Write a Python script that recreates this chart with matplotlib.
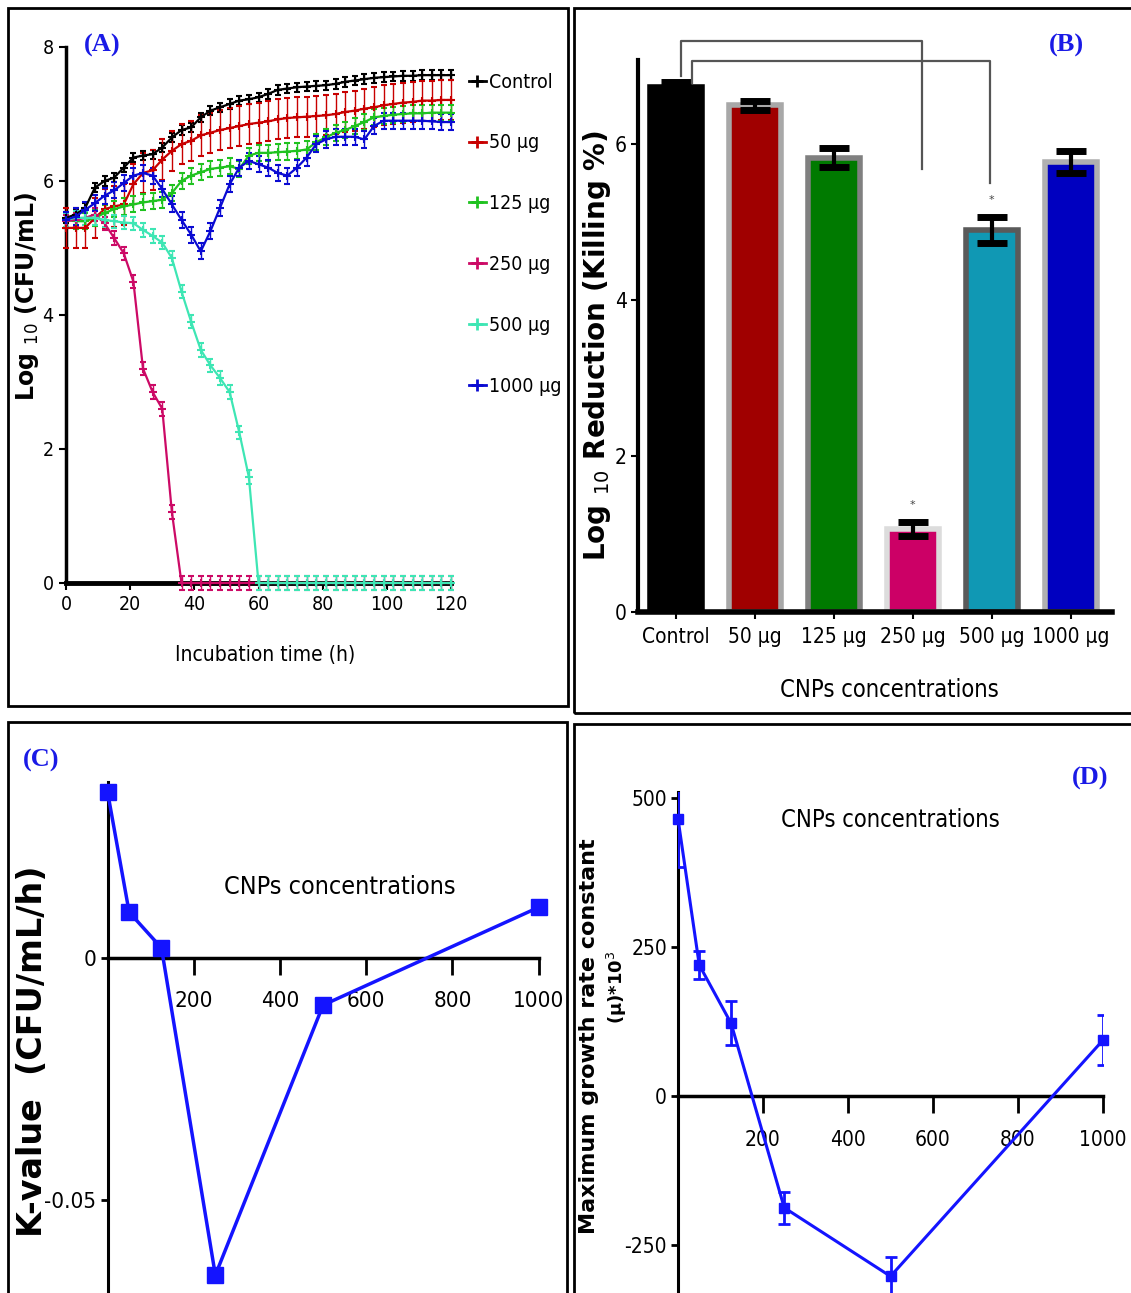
import os
import numpy as np
import matplotlib
matplotlib.use("Agg")
import matplotlib.pyplot as plt
from matplotlib import font_manager
from matplotlib.font_manager import FontProperties
from matplotlib.lines import Line2D
from matplotlib.patches import Rectangle

# ---- data: panel A, growth curves (log10 CFU/mL every 3 h) ----
time_h = list(range(0, 121, 3))
series_labels = ["Control", "50 µg", "125 µg", "250 µg", "500 µg", "1000 µg"]

control = [5.45, 5.5, 5.6, 5.9, 6.0, 6.05, 6.2, 6.35, 6.38, 6.4, 6.5, 6.65, 6.76, 6.8,
           6.95, 7.05, 7.1, 7.15, 7.2, 7.22, 7.25, 7.3, 7.36, 7.38, 7.4, 7.41, 7.42,
           7.43, 7.45, 7.48, 7.5, 7.52, 7.54, 7.55, 7.56, 7.57, 7.57, 7.58, 7.58, 7.58, 7.58]
ug50 = [5.3, 5.3, 5.3, 5.45, 5.58, 5.62, 5.65, 5.95, 6.12, 6.16, 6.32, 6.45, 6.55, 6.6,
        6.68, 6.72, 6.76, 6.79, 6.82, 6.85, 6.87, 6.89, 6.92, 6.94, 6.95, 6.96, 6.97,
        6.98, 7.0, 7.03, 7.05, 7.08, 7.1, 7.13, 7.15, 7.17, 7.18, 7.2, 7.2, 7.21, 7.21]
ug125 = [5.42, 5.4, 5.4, 5.45, 5.52, 5.58, 5.62, 5.65, 5.68, 5.7, 5.72, 5.82, 6.0, 6.08,
         6.13, 6.18, 6.2, 6.22, 6.18, 6.38, 6.42, 6.42, 6.43, 6.44, 6.45, 6.47, 6.58,
         6.65, 6.72, 6.76, 6.82, 6.88, 6.95, 6.97, 6.99, 7.0, 7.01, 7.01, 7.02, 7.02, 7.02]
ug250 = [5.4, 5.42, 5.45, 5.5, 5.37, 5.15, 4.92, 4.5, 3.2, 2.85, 2.6, 1.06, 0.0, 0.0,
         0.0, 0.0, 0.0, 0.0, 0.0, 0.0, 0.0, 0.0, 0.0, 0.0, 0.0, 0.0, 0.0,
         0.0, 0.0, 0.0, 0.0, 0.0, 0.0, 0.0, 0.0, 0.0, 0.0, 0.0, 0.0, 0.0, 0.0]
ug500 = [5.42, 5.45, 5.45, 5.45, 5.42, 5.4, 5.38, 5.37, 5.27, 5.18, 5.08, 4.85, 4.35, 3.9,
         3.48, 3.25, 3.06, 2.85, 2.25, 1.58, 0.0, 0.0, 0.0, 0.0, 0.0, 0.0, 0.0,
         0.0, 0.0, 0.0, 0.0, 0.0, 0.0, 0.0, 0.0, 0.0, 0.0, 0.0, 0.0, 0.0, 0.0]
ug1000 = [5.42, 5.47, 5.57, 5.67, 5.78, 5.86, 5.97, 6.08, 6.12, 6.08, 5.88, 5.65, 5.42, 5.2,
          4.95, 5.25, 5.6, 5.95, 6.2, 6.3, 6.25, 6.2, 6.12, 6.08, 6.2, 6.35, 6.55,
          6.62, 6.66, 6.66, 6.66, 6.62, 6.82, 6.9, 6.9, 6.9, 6.9, 6.9, 6.89, 6.88, 6.88]
curve_err = [0.07, 0.3, 0.12, 0.1, 0.1, 0.12]
curve_colors = ["#000000", "#c80000", "#1fc21f", "#cc0a66", "#3ee6b4", "#0a0ad2"]

# ---- data: panel B, log10 reduction ----
bar_labels = ["Control", "50 µg", "125 µg", "250 µg", "500 µg", "1000 µg"]
reduction = [6.72, 6.49, 5.82, 1.06, 4.89, 5.76]
reduction_err = [0.07, 0.06, 0.12, 0.09, 0.17, 0.14]
bar_colors = ["#000000", "#a00000", "#007a00", "#cc0066", "#1098b4", "#0000c0"]
bar_edges = ["#000000", "#a8a8a8", "#808080", "#dcdcdc", "#5a5a5a", "#b0b0b0"]

# ---- data: panels C and D ----
conc = [0, 50, 125, 250, 500, 1000]
k_value = [0.0343, 0.0095, 0.0021, -0.0655, -0.0097, 0.0105]
mu_max = [465, 220, 122, -187, -302, 94]
mu_err = [80, 24, 37, 27, 32, 42]

# narrow font for the (horizontally squeezed) labels, if one is installed
cond_path = None
for f in font_manager.fontManager.ttflist:
    base = os.path.basename(f.fname).lower()
    if ("condensed" in base or "narrow" in base) and not any(
            k in base for k in ("bold", "italic", "oblique", "light", "mono", "serif")):
        cond_path = f.fname
        break
available = {f.name for f in font_manager.fontManager.ttflist}
SERIF = "Liberation Serif" if "Liberation Serif" in available else "DejaVu Serif"


def cf(size):
    if cond_path:
        return FontProperties(fname=cond_path, size=size)
    return FontProperties(family="Liberation Sans", size=size)


W, H = 1131, 1293
fig = plt.figure(figsize=(W / 100, H / 100), dpi=100)


def px_axes(x0, y_top, x1, y_bottom):
    return fig.add_axes([x0 / W, 1 - y_bottom / H, (x1 - x0) / W, (y_bottom - y_top) / H])


def fig_text(x, y, s, **kw):
    fig.text(x / W, 1 - y / H, s, **kw)


def style_ticks(ax, size):
    for lab in ax.get_xticklabels() + ax.get_yticklabels():
        lab.set_fontproperties(cf(size))


# panel frames
for (x0, y0, x1, y1) in [(8, 8, 568, 706), (574, 8, 1140, 713),
                         (8, 722, 567, 1300), (574, 724, 1140, 1300)]:
    fig.add_artist(Rectangle((x0 / W, 1 - y1 / H), (x1 - x0) / W, (y1 - y0) / H,
                             transform=fig.transFigure, fill=False, lw=2, ec="black"))

# ── (A) growth curves ────────────────────────────────────────────────
axA = px_axes(66, 47, 451, 583)
curves = [control, ug50, ug125, ug250, ug500, ug1000]
handles = []
for vals, err, col in zip(curves, curve_err, curve_colors):
    axA.errorbar(time_h, vals, yerr=err, color=col, lw=1.6, marker="+", ms=6,
                 mew=1.5, capsize=2.5, elinewidth=1.0, clip_on=False, zorder=3)
    handles.append(Line2D([0], [0], color=col, lw=2, marker="+", ms=8, mew=2))
axA.set_xlim(0, 120)
axA.set_ylim(0, 8)
axA.set_xticks(range(0, 121, 20))
axA.set_yticks(range(0, 9, 2))
for s in ["top", "right"]:
    axA.spines[s].set_visible(False)
axA.spines["left"].set_linewidth(2.5)
axA.spines["bottom"].set_linewidth(3.5)
axA.tick_params(length=5, width=1.5, pad=4)
style_ticks(axA, 14)
axA.set_xlabel("Incubation time (h)", fontproperties=cf(15))
axA.xaxis.set_label_coords(0.517, -0.115)
axA.legend(handles, series_labels, loc="upper left", bbox_to_anchor=(1.0, 0.985),
           frameon=False, handlelength=0.9, handletextpad=0.15, labelspacing=2.15,
           prop=cf(14))
fig_text(27, 296, "Log $_{10}$ (CFU/mL)", rotation=90, ha="center", va="center",
         fontsize=17, fontweight="bold")
fig_text(102, 45, "(A)", color="#1a1ae6", fontsize=19, fontweight="bold",
         family=SERIF, ha="center", va="center")

# ── (B) log reduction bars ───────────────────────────────────────────
axB = px_axes(638, 60, 1112, 612)
xpos = np.arange(len(bar_labels))
axB.bar(xpos, reduction, width=0.66, color=bar_colors, edgecolor=bar_edges, linewidth=4,
        zorder=2)
axB.errorbar(xpos, reduction, yerr=reduction_err, fmt="none", ecolor="black",
             elinewidth=3, capsize=11, capthick=5, zorder=3)
axB.set_xlim(-0.48, 5.52)
axB.set_ylim(0, 7.07)
axB.set_xticks(xpos)
axB.set_xticklabels(bar_labels)
axB.set_yticks([0, 2, 4, 6])
for s in ["top", "right"]:
    axB.spines[s].set_visible(False)
axB.spines["left"].set_linewidth(3)
axB.spines["bottom"].set_linewidth(4)
axB.tick_params(axis="y", length=5, width=1.5, pad=3)
axB.tick_params(axis="x", length=5, width=1.5, pad=6)
style_ticks(axB, 15)
axB.set_xlabel("CNPs concentrations", fontproperties=cf(17))
axB.xaxis.set_label_coords(0.53, -0.12)

# significance brackets: control vs 250 µg and control vs 500 µg
brackets = [(3, 0.14, 7.31, 5.67, 0.06, 0.11), (4, 0.05, 7.06, 5.5, 0.2, -0.03)]
for i, lift, top, drop, dx0, dx1 in brackets:
    x0 = xpos[0] + dx0
    x1 = xpos[i] + dx1
    axB.plot([x0, x0, x1, x1], [reduction[0] + lift, top, top, drop],
             color="#555555", lw=1.6, clip_on=False, zorder=4)
for i in (3, 4):
    axB.text(xpos[i], reduction[i] + reduction_err[i] + 0.22, "*", ha="center",
             va="center", fontsize=8, color="#444444")
fig_text(597, 346, "Log $_{10}$ Reduction (Killing %)", rotation=90, ha="center",
         va="center", fontsize=20, fontweight="bold")
fig_text(1066, 45, "(B)", color="#1a1ae6", fontsize=19, fontweight="bold",
         family=SERIF, ha="center", va="center")


def style_conc_axes(ax, size):
    ax.spines["top"].set_visible(False)
    ax.spines["right"].set_visible(False)
    ax.spines["bottom"].set_position(("data", 0))
    ax.spines["left"].set_linewidth(2.2)
    ax.spines["bottom"].set_linewidth(2.5)
    ax.set_xlim(0, 1000)
    ax.set_xticks([200, 400, 600, 800, 1000])
    ax.tick_params(axis="x", length=12, width=2, pad=12)
    ax.tick_params(axis="y", length=5, width=2, pad=3)
    style_ticks(ax, size)


# ── (C) K-value ──────────────────────────────────────────────────────
axC = px_axes(107.6, 782, 538.6, 1293)
axC.plot(conc, k_value, color="#1414ff", lw=2.5, marker="s", ms=11, clip_on=False,
         zorder=3)
axC.set_ylim(-0.0692, 0.0364)
axC.set_yticks([-0.05, 0])
axC.set_yticklabels(["-0.05", "0"])
style_conc_axes(axC, 16)
axC.text(0.539, 0.7945, "CNPs concentrations", transform=axC.transAxes, ha="center",
         va="center", fontproperties=cf(18))
fig_text(33, 1051, "K-value  (CFU/mL/h)", rotation=90, ha="center", va="center",
         fontsize=24, fontweight="bold")
fig_text(41, 760, "(C)", color="#1a1ae6", fontsize=19, fontweight="bold",
         family=SERIF, ha="center", va="center")

# ── (D) maximum growth rate ──────────────────────────────────────────
axD = px_axes(678, 792, 1103, 1293)
eb = axD.errorbar(conc, mu_max, yerr=mu_err, color="#1414ff", lw=2.2, marker="s", ms=7,
                  capsize=4, elinewidth=2, capthick=2, zorder=3)
eb[0].set_clip_on(False)
axD.set_ylim(-330, 510)
axD.set_yticks([-250, 0, 250, 500])
axD.set_yticklabels(["-250", "0", "250", "500"])
style_conc_axes(axD, 15)
axD.text(0.499, 0.944, "CNPs concentrations", transform=axD.transAxes, ha="center",
         va="center", fontproperties=cf(17))
fig_text(589, 1036, "Maximum growth rate constant", rotation=90, ha="center",
         va="center", fontsize=16, fontweight="bold")
fig_text(617, 987, "(µ)*10$^{3}$", rotation=90, ha="center", va="center",
         fontsize=13, fontweight="bold")
fig_text(1090, 778, "(D)", color="#1a1ae6", fontsize=19, fontweight="bold",
         family=SERIF, ha="center", va="center")

fig.savefig("out.png", dpi=100)
